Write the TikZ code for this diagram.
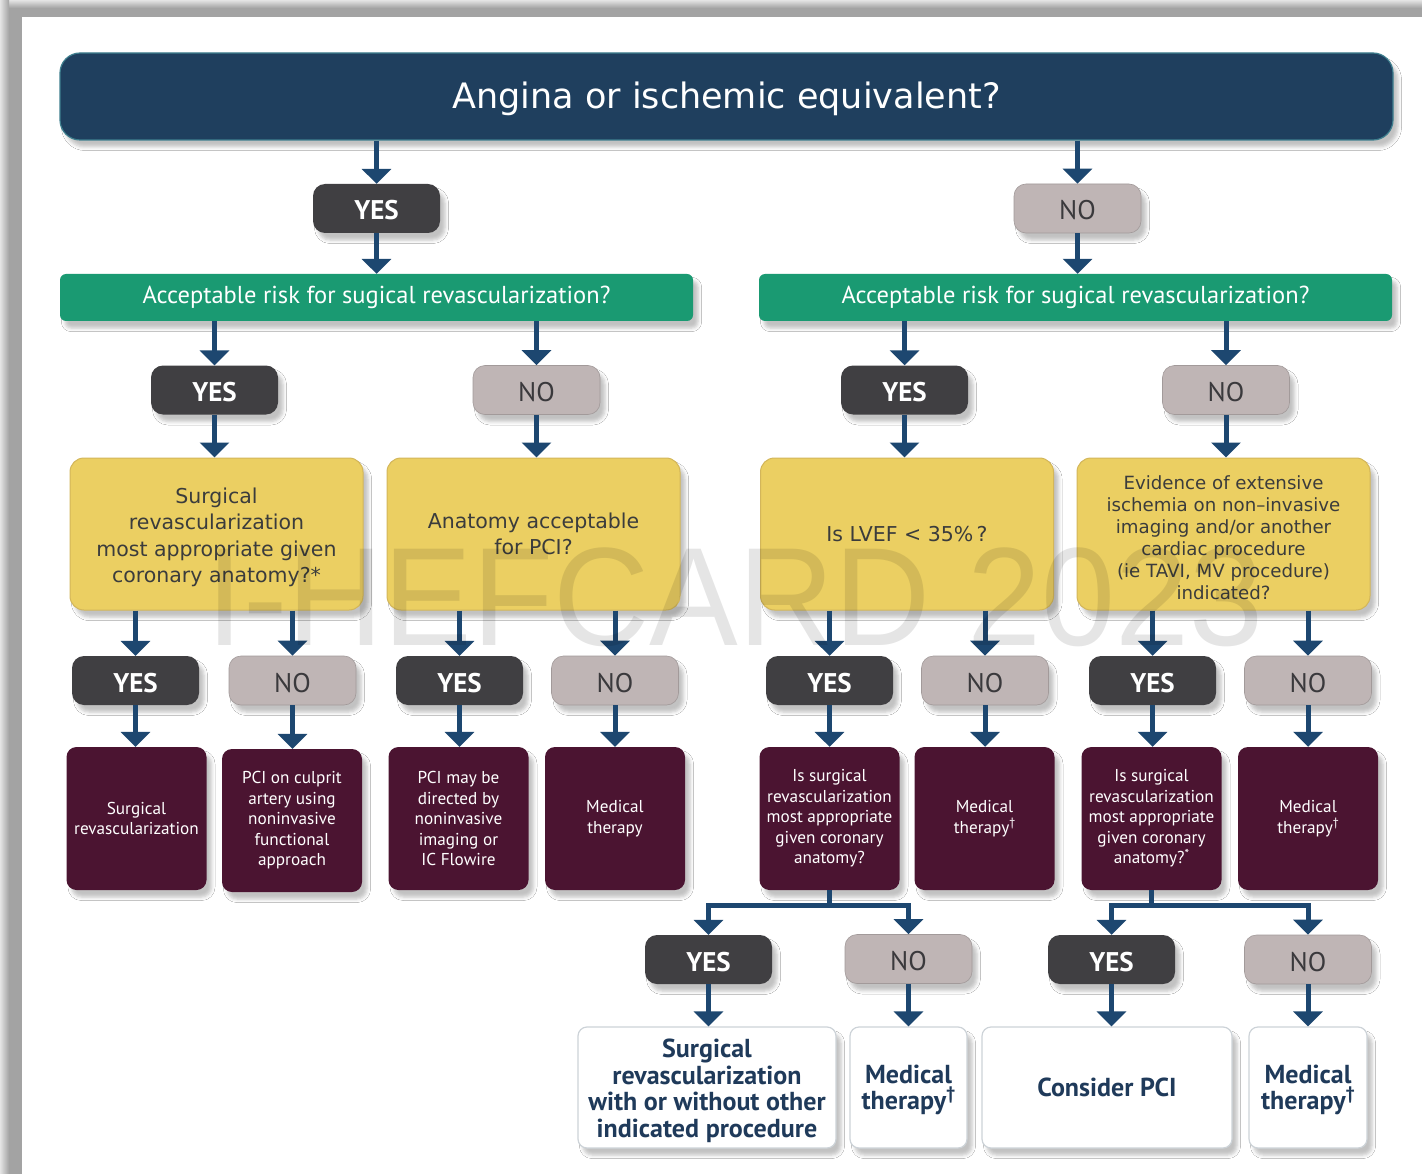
\documentclass[tikz,border=0pt]{standalone}
\usepackage{fontspec}
\setmainfont{DejaVu Sans}
\newfontfamily\ptsans{PT Sans}
\newfontfamily\markfont{Liberation Sans}
\usetikzlibrary{arrows.meta,shadows.blur}

\definecolor{titlenavy}{HTML}{1F3F5E}
\definecolor{titleedge}{HTML}{3E7F8E}
\definecolor{arrowblue}{HTML}{1D4770}
\definecolor{yesgray}{HTML}{403F42}
\definecolor{nogray}{HTML}{BFB5B5}
\definecolor{notext}{HTML}{3A393C}
\definecolor{riskgreen}{HTML}{1A9A72}
\definecolor{qyellow}{HTML}{EBCF62}
\definecolor{qyellowedge}{HTML}{D3B65A}
\definecolor{qtext}{HTML}{3B3C3C}
\definecolor{maroon}{HTML}{4B1431}
\definecolor{endedge}{HTML}{CDD3D8}
\definecolor{endtext}{HTML}{1F3A5A}
\definecolor{framegray}{HTML}{A3A3A3}
\definecolor{framelight}{HTML}{E4E4E4}

\tikzset{
  softshadow/.style={blur shadow={shadow xshift=5pt, shadow yshift=-7pt,
      shadow blur radius=3.5pt, shadow opacity=24}},
  arr/.style={draw=arrowblue, line width=5pt,
      -{Triangle[width=29pt,length=15pt]}},
  titlebox/.style={fill=titlenavy, draw=titleedge, line width=1.2pt,
      rounded corners=20pt, minimum width=1333pt, minimum height=87pt,
      inner sep=0pt, text height=29pt, text depth=4pt, text=white,
      font=\fontsize{35}{42}\selectfont, softshadow},
  yesbtn/.style={fill=yesgray, rounded corners=12pt, minimum width=127pt,
      minimum height=49pt, inner sep=0pt, text height=23pt, text depth=0pt,
      text=white, font=\ptsans\bfseries\fontsize{27}{30}\selectfont, softshadow},
  nobtn/.style={fill=nogray, draw=nogray!85!black, line width=0.6pt,
      rounded corners=12pt, minimum width=127pt,
      minimum height=49pt, inner sep=0pt, text height=23pt, text depth=0pt,
      text=notext, font=\ptsans\fontsize{27}{30}\selectfont, softshadow},
  riskbar/.style={fill=riskgreen, rounded corners=6pt, minimum width=633pt,
      minimum height=47pt, inner sep=0pt, text=white,
      font=\ptsans\fontsize{24.5}{28}\selectfont, softshadow},
  question/.style={fill=qyellow, draw=qyellowedge, line width=1pt,
      rounded corners=14pt, minimum width=293pt, minimum height=152pt,
      inner sep=0pt, align=center, text=qtext,
      font=\fontsize{20.5}{26.5}\selectfont, softshadow},
  question small/.style={question, font=\fontsize{18.2}{22}\selectfont},
  outcome/.style={fill=maroon, rounded corners=10pt, minimum width=140pt,
      minimum height=143pt, inner sep=0pt, align=center, text=white,
      font=\ptsans\fontsize{17.2}{20.5}\selectfont, softshadow},
  final/.style={fill=white, draw=endedge, line width=1.2pt,
      rounded corners=9pt, minimum height=121pt, inner sep=0pt,
      align=center, text=endtext,
      font=\ptsans\bfseries\fontsize{26}{26.5}\selectfont, softshadow},
}
% small raised marks used in the footnoted boxes
\newcommand{\dagmark}{\raisebox{0.4em}{\scalebox{0.7}{†}}}
\newcommand{\starmark}{\raisebox{0.3em}{\scalebox{0.75}{*}}}
% extra height on a first line, to push a block of lines down a little
\newcommand{\lift}[1]{\rule{0pt}{#1}}

\begin{document}
\begin{tikzpicture}[x=1pt,y=-1pt]
\useasboundingbox (0,0) rectangle (1422,1174);
\fill[white] (0,0) rectangle (1422,1174);

% grey frame along the top and left edges
\shade[top color=framelight, bottom color=framegray] (0,0) rectangle (1422,8);
\fill[framegray] (0,8) rectangle (1422,17);
\shade[left color=framelight, right color=framegray] (0,0) rectangle (9,1174);
\fill[framegray] (9,8) rectangle (22,1174);

% top question
\node[titlebox] (title) at (726.5,96.5) {Angina or ischemic equivalent?};

% first answers
\node[yesbtn] (yes0) at (376.5,208.5) {YES};
\node[nobtn]  (no0)  at (1077.5,208.5) {NO};

% surgical risk questions
\node[riskbar] (risk1) at (376.5,297.5) {Acceptable risk for sugical revascularization?};
\node[riskbar] (risk2) at (1075.5,297.5) {Acceptable risk for sugical revascularization?};

% second answers
\node[yesbtn] (yes1a) at (214.5,390) {YES};
\node[nobtn]  (no1a)  at (536.5,390) {NO};
\node[yesbtn] (yes1b) at (904.5,390) {YES};
\node[nobtn]  (no1b)  at (1226,390) {NO};

% anatomy / function questions
\node[question] (q1) at (216.5,534) {\lift{22pt}Surgical\\revascularization\\most appropriate given\\coronary anatomy?*};
\node[question] (q2) at (533.5,534) {Anatomy acceptable\\for PCI?};
\node[question] (q3) at (907,534) {Is LVEF < 35\%\,?};
\node[question small] (q4) at (1223.5,534) {\lift{21pt}Evidence of extensive\\ischemia on non–invasive\\imaging and/or another\\cardiac procedure\\(ie TAVI, MV procedure)\\indicated?};

% third answers
\node[yesbtn] (yes2a) at (135.5,680.5) {YES};
\node[nobtn]  (no2a)  at (292.5,680.5) {NO};
\node[yesbtn] (yes2b) at (459.5,680.5) {YES};
\node[nobtn]  (no2b)  at (615,680.5) {NO};
\node[yesbtn] (yes2c) at (829.5,680.5) {YES};
\node[nobtn]  (no2c)  at (985,680.5) {NO};
\node[yesbtn] (yes2d) at (1152.5,680.5) {YES};
\node[nobtn]  (no2d)  at (1308,680.5) {NO};

% management boxes
\node[outcome] (m1) at (136.5,818.5) {Surgical\\revascularization};
\node[outcome] (m2) at (292,820.5) {PCI on culprit\\artery using\\noninvasive\\functional\\approach};
\node[outcome] (m3) at (458.5,818.5) {PCI may be\\directed by\\noninvasive\\imaging or\\IC Flowire};
\node[outcome] (m4) at (615,818.5) {Medical\\therapy};
\node[outcome] (m5) at (829.5,818.5) {Is surgical\\revascularization\\most appropriate\\given coronary\\anatomy?};
\node[outcome] (m6) at (984.5,818.5) {Medical\\therapy\dagmark};
\node[outcome] (m7) at (1151.5,818.5) {Is surgical\\revascularization\\most appropriate\\given coronary\\anatomy?\starmark};
\node[outcome] (m8) at (1308,818.5) {Medical\\therapy\dagmark};

% fourth answers
\node[yesbtn] (yes3a) at (708.5,959.5) {YES};
\node[nobtn]  (no3a)  at (908.5,959) {NO};
\node[yesbtn] (yes3b) at (1111.5,959.5) {YES};
\node[nobtn]  (no3b)  at (1308,959.5) {NO};

% final recommendations
\node[final, minimum width=258pt] (f1) at (707,1087.5) {\lift{25pt}Surgical\\revascularization\\with or without other\\indicated procedure};
\node[final, minimum width=117pt] (f2) at (908.5,1087.5) {\lift{23pt}Medical\\therapy\dagmark};
\node[final, minimum width=250pt] (f3) at (1107,1087.5) {Consider PCI};
\node[final, minimum width=118pt] (f4) at (1308,1087.5) {\lift{23pt}Medical\\therapy\dagmark};

% connectors
\draw[arr] (title.south -| yes0) -- (yes0.north);
\draw[arr] (title.south -| no0) -- (no0.north);
\draw[arr] (yes0.south) -- (yes0.south |- risk1.north);
\draw[arr] (no0.south) -- (no0.south |- risk2.north);

\foreach \src/\btn in {risk1/yes1a, risk1/no1a, risk2/yes1b, risk2/no1b}
  \draw[arr] (\src.south -| \btn) -- (\btn.north);

\draw[arr] (yes1a.south) -- (yes1a.south |- q1.north);
\draw[arr] (no1a.south)  -- (no1a.south |- q2.north);
\draw[arr] (yes1b.south) -- (yes1b.south |- q3.north);
\draw[arr] (no1b.south)  -- (no1b.south |- q4.north);

\foreach \src/\btn in {q1/yes2a, q1/no2a, q2/yes2b, q2/no2b,
                       q3/yes2c, q3/no2c, q4/yes2d, q4/no2d}
  \draw[arr] (\src.south -| \btn) -- (\btn.north);

\foreach \btn/\dest in {yes2a/m1, no2a/m2, yes2b/m3, no2b/m4,
                        yes2c/m5, no2c/m6, yes2d/m7, no2d/m8}
  \draw[arr] (\btn.south) -- (\btn.south |- \dest.north);

\coordinate (split1) at (829.5,905);
\coordinate (split2) at (1151.5,905);
\draw[arr] (m5.south) -- (split1) -| (yes3a.north);
\draw[arr] (split1) -| (no3a.north);
\draw[arr] (m7.south) -- (split2) -| (yes3b.north);
\draw[arr] (split2) -| (no3b.north);

\draw[arr] (yes3a.south) -- (yes3a.south |- f1.north);
\draw[arr] (no3a.south)  -- (no3a.south |- f2.north);
\draw[arr] (yes3b.south) -- (yes3b.south |- f3.north);
\draw[arr] (no3b.south)  -- (no3b.south |- f4.north);

% faint watermark over the chart
\node[inner sep=0pt, text=black, opacity=0.1, xscale=0.95,
      font=\markfont\fontsize{140}{140}\selectfont] (mark) at (735,597) {I-HEFCARD 2023};
\end{tikzpicture}
\end{document}
